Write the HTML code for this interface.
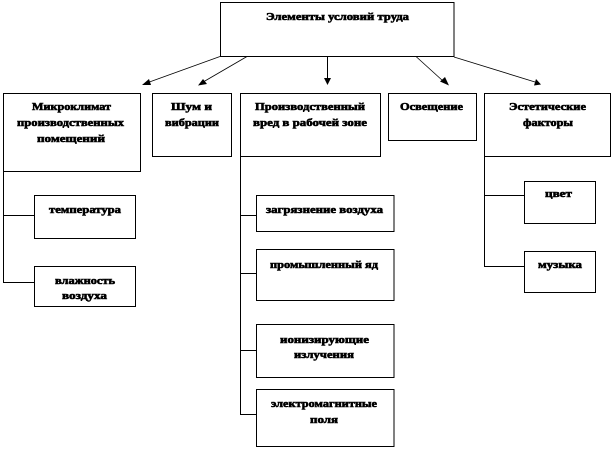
<!DOCTYPE html>
<html lang="ru">
<head>
<meta charset="utf-8">
<style>
html,body{margin:0;padding:0;background:#fff;width:613px;height:450px;overflow:hidden}
svg{display:block}
rect{fill:#fff;stroke:#000;stroke-width:1}
line,polyline{stroke:#000;stroke-width:1;fill:none}
line.d{stroke-width:.8}
polygon{fill:#000}
text{font-family:"Liberation Serif","Noto Serif CJK SC",serif;font-weight:bold;font-size:11px;fill:#000;stroke:#000;stroke-width:.6}
</style>
</head>
<body>
<svg width="613" height="450" viewBox="0 0 613 450" xmlns="http://www.w3.org/2000/svg">
<rect x="220.5" y="2.5" width="233.5" height="54"/>
<rect x="3.5" y="93.5" width="137" height="78"/>
<rect x="152.5" y="93.5" width="79" height="63"/>
<rect x="240.5" y="93.5" width="140" height="63"/>
<rect x="388.5" y="93.5" width="88" height="47"/>
<rect x="484.5" y="93.5" width="126" height="63"/>

<polyline points="3.5,171 3.5,282.5 34,282.5"/>
<line x1="3" y1="215.5" x2="34" y2="215.5"/>
<line x1="240.5" y1="156" x2="240.5" y2="414.5"/>
<line x1="240" y1="215.5" x2="256" y2="215.5"/>
<line x1="240" y1="273.5" x2="256" y2="273.5"/>
<line x1="240" y1="350.5" x2="256" y2="350.5"/>
<line x1="240" y1="414.5" x2="256" y2="414.5"/>
<polyline points="484.5,156 484.5,266.5 524,266.5"/>
<line x1="484" y1="195.5" x2="524" y2="195.5"/>

<rect x="34.5" y="195.5" width="101" height="43"/>
<rect x="34.5" y="266.5" width="101" height="40"/>
<rect x="256.5" y="195.5" width="137.5" height="36"/>
<rect x="256.5" y="249.5" width="137.5" height="51"/>
<rect x="256.5" y="324.500" width="137.5" height="53"/>
<rect x="256.5" y="389.5" width="137.5" height="57"/>
<rect x="524.5" y="181.5" width="71" height="42"/>
<rect x="524.5" y="251.5" width="71" height="41"/>

<line class="d" x1="220" y1="56.5" x2="148" y2="82.5"/>
<polygon points="142,85 149,79 151,85"/>
<line class="d" x1="247" y1="56.5" x2="204" y2="81.5"/>
<polygon points="198,85.500 203,79 207,84"/>
<line x1="327.500" y1="56" x2="327.500" y2="79"/>
<polygon points="324,78 331,78 327.500,85"/>
<line class="d" x1="416" y1="56.500" x2="443" y2="81"/>
<polygon points="449,85.500 440,81.500 445,77"/>
<line class="d" x1="454" y1="57" x2="535" y2="82"/>
<polygon points="541,84.500 534,85.500 536,79"/>

<text x="266" y="20" textLength="143" lengthAdjust="spacingAndGlyphs">Элементы условий труда</text>
<text x="32" y="110" textLength="79" lengthAdjust="spacingAndGlyphs">Микроклимат</text>
<text x="17" y="126" textLength="107" lengthAdjust="spacingAndGlyphs">производственных</text>
<text x="37" y="142" textLength="68" lengthAdjust="spacingAndGlyphs">помещений</text>
<text x="171" y="110" textLength="41" lengthAdjust="spacingAndGlyphs">Шум и</text>
<text x="165" y="126" textLength="54" lengthAdjust="spacingAndGlyphs">вибрации</text>
<text x="255" y="110" textLength="110" lengthAdjust="spacingAndGlyphs">Производственный</text>
<text x="253" y="126" textLength="114" lengthAdjust="spacingAndGlyphs">вред в рабочей зоне</text>
<text x="400" y="110" textLength="63" lengthAdjust="spacingAndGlyphs">Освещение</text>
<text x="509" y="110" textLength="77" lengthAdjust="spacingAndGlyphs">Эстетические</text>
<text x="523" y="126" textLength="50" lengthAdjust="spacingAndGlyphs">факторы</text>
<text x="49" y="213" textLength="72" lengthAdjust="spacingAndGlyphs">температура</text>
<text x="55" y="284" textLength="60" lengthAdjust="spacingAndGlyphs">влажность</text>
<text x="62" y="299" textLength="45" lengthAdjust="spacingAndGlyphs">воздуха</text>
<text x="266" y="213" textLength="117" lengthAdjust="spacingAndGlyphs">загрязнение воздуха</text>
<text x="270" y="268" textLength="108" lengthAdjust="spacingAndGlyphs">промышленный яд</text>
<text x="280" y="343" textLength="89" lengthAdjust="spacingAndGlyphs">ионизирующие</text>
<text x="294" y="358" textLength="60" lengthAdjust="spacingAndGlyphs">излучения</text>
<text x="271" y="407" textLength="106" lengthAdjust="spacingAndGlyphs">электромагнитные</text>
<text x="310" y="423" textLength="28" lengthAdjust="spacingAndGlyphs">поля</text>
<text x="545" y="197" textLength="27" lengthAdjust="spacingAndGlyphs">цвет</text>
<text x="538" y="268" textLength="44" lengthAdjust="spacingAndGlyphs">музыка</text>
</svg>
</body>
</html>
